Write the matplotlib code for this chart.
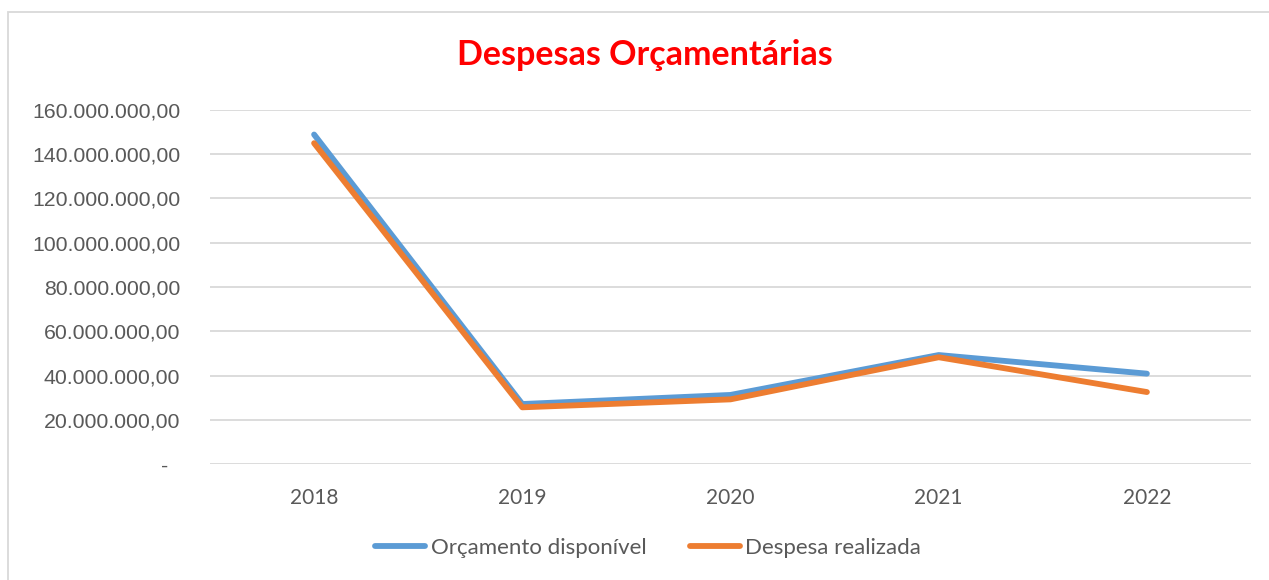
import matplotlib
matplotlib.use("Agg")
import matplotlib.pyplot as plt
from matplotlib.patches import Rectangle
from matplotlib.ticker import FuncFormatter, MultipleLocator

plt.rcParams['font.family'] = ['Lato', 'DejaVu Sans']

years = ["2018", "2019", "2020", "2021", "2022"]
orcamento = [148.8e6, 27.2e6, 31.3e6, 49.3e6, 40.9e6]
despesa = [144.9e6, 25.7e6, 29.3e6, 48.3e6, 32.6e6]
series_names = ["Orçamento disponível", "Despesa realizada"]
title = "Despesas Orçamentárias"

W, H = 1269, 580
fig = plt.figure(figsize=(W / 100, H / 100), dpi=100)
fig.patch.set_facecolor("white")

# outer chart border
fig.patches.append(Rectangle((7.5 / W, -0.1), 2.0, 1 - 11.5 / H + 0.1,
                             transform=fig.transFigure, fill=False,
                             edgecolor="#d9d9d9", linewidth=1.3))

left, right = 210 / W, 1251 / W
bottom, top = 1 - 464.3 / H, 1 - 109.7 / H
ax = fig.add_axes([left, bottom, right - left, top - bottom])

x = list(range(len(years)))
l1, = ax.plot(x, orcamento, color="#5B9BD5", linewidth=4.2,
              solid_capstyle="round", solid_joinstyle="round", zorder=3)
l2, = ax.plot(x, despesa, color="#ED7D31", linewidth=4.2,
              solid_capstyle="round", solid_joinstyle="round", zorder=4)

ax.set_xlim(-0.5, len(years) - 0.5)
ax.set_ylim(0, 160e6)
ax.yaxis.set_major_locator(MultipleLocator(20e6))


def fmt(v, pos):
    if abs(v) < 1:
        return "-  "
    s = f"{v:,.2f}"
    return s.replace(",", "X").replace(".", ",").replace("X", ".")


ax.yaxis.set_major_formatter(FuncFormatter(fmt))
ax.set_xticks(x)
ax.set_xticklabels(years)

ax.grid(axis="y", color="#d9d9d9", linewidth=1.3)
ax.set_axisbelow(True)
for sp in ax.spines.values():
    sp.set_visible(False)
ax.tick_params(axis="both", length=0, labelcolor="#595959")
ax.tick_params(axis="y", pad=21.5, labelsize=15.3)
ax.tick_params(axis="x", pad=17, labelsize=15)
for lab in ax.get_yticklabels():
    lab.set_family(["Liberation Sans", "DejaVu Sans"])

fig.text(645 / W, 1 - 55 / H, title, ha="center", va="center",
         fontsize=24.5, fontweight="bold", color="#FF0000")

fig.legend([l1, l2], series_names, loc="center",
           bbox_to_anchor=(648 / W, 1 - 548 / H), ncol=2, frameon=False,
           fontsize=16, labelcolor="#595959", handlelength=2.25,
           handletextpad=0.25, columnspacing=1.95, borderpad=0)

fig.savefig("out.png", dpi=100, facecolor="white")
